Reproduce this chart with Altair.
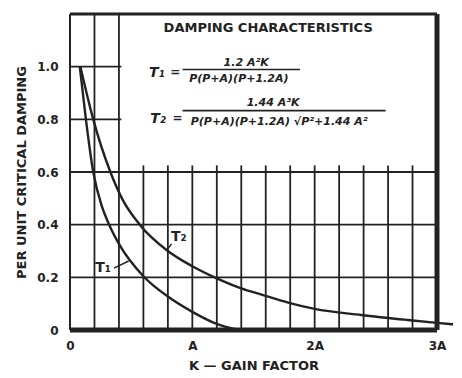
import altair as alt
import pandas as pd

# ---- data (x in units of A) ----
t1_x = [0.08, 0.13, 0.19, 0.26, 0.32, 0.40, 0.60, 0.80, 1.00, 1.20, 1.38]
t1_y = [1.00, 0.80, 0.60, 0.47, 0.40, 0.327, 0.204, 0.127, 0.069, 0.023, 0.0]
t2_x = [0.085, 0.19, 0.33, 0.43, 0.57, 0.80, 1.00, 1.20, 1.40, 1.56, 1.79, 2.00, 2.38, 2.76, 3.00, 3.15]
t2_y = [1.00, 0.80, 0.60, 0.495, 0.40, 0.30, 0.242, 0.196, 0.158, 0.135, 0.103, 0.08, 0.057, 0.038, 0.027, 0.021]

x_tick_values = [0, 1, 2, 3]
x_tick_labels = ["0", "A", "2A", "3A"]
y_tick_values = [0, 0.2, 0.4, 0.6, 0.8, 1.0]
y_tick_labels = ["0", "0.2", "0.4", "0.6", "0.8", "1.0"]

grid_x = [0.2, 0.4, 0.6, 0.8, 1.0, 1.2, 1.4, 1.6, 1.8, 2.0, 2.2, 2.4, 2.6, 2.8]
grid_y = [0.2, 0.4, 0.6, 0.8, 1.0]

title_text = "DAMPING CHARACTERISTICS"
x_title = "K — GAIN FACTOR"
y_title = "PER UNIT CRITICAL DAMPING"

INK = "#222222"
FONT = "DejaVu Sans"

# ---- tables ----
curves = pd.concat([
    pd.DataFrame({"x": t1_x, "y": t1_y, "s": "T1"}),
    pd.DataFrame({"x": t2_x, "y": t2_y, "s": "T2"}),
])

vgrid = pd.DataFrame({
    "x": grid_x,
    "y": [0.0] * len(grid_x),
    "y2": [1.2 if v <= 0.4 else 0.625 for v in grid_x],
})
hgrid = pd.DataFrame({
    "y": grid_y,
    "x": [0.0] * len(grid_y),
    "x2": [3.0 if v <= 0.6 else 0.42 for v in grid_y],
})
borders = pd.DataFrame({
    "x": [0.0, 0.0, 3.0, 0.0],
    "x2": [0.0, 3.0, 3.0, 3.0],
    "y": [0.0, 1.2, 0.0, 0.0],
    "y2": [1.2, 1.2, 1.2, 0.0],
    "w": [2.0, 3.0, 5.0, 5.0],
})
leaders = pd.DataFrame({
    "x": [0.36, 0.83],
    "x2": [0.48, 0.79],
    "y": [0.235, 0.327],
    "y2": [0.262, 0.303],
})
fraction_bars = pd.DataFrame({
    "x": [0.92, 0.92],
    "x2": [1.88, 2.58],
    "y": [0.989, 0.833],
})

def labexpr(vals, labs):
    e = "''"
    for v, l in reversed(list(zip(vals, labs))):
        e = f"datum.value == {v} ? '{l}' : ({e})"
    return e

xs = alt.Scale(domain=[0, 3], nice=False, zero=False)
ys = alt.Scale(domain=[0, 1.2], nice=False, zero=False)

x_axis = alt.Axis(
    values=x_tick_values, labelExpr=labexpr(x_tick_values, x_tick_labels),
    title=x_title, grid=False, ticks=False, domain=False,
    labelFont=FONT, labelFontSize=12, labelFontWeight="bold", labelColor=INK,
    labelPadding=10, titleFont=FONT, titleFontSize=13, titleFontWeight="bold",
    titleColor=INK, titlePadding=8, labelFlush=False)
y_axis = alt.Axis(
    values=y_tick_values, labelExpr=labexpr(y_tick_values, y_tick_labels),
    title=y_title, grid=False, ticks=False, domain=False,
    labelFont=FONT, labelFontSize=12, labelFontWeight="bold", labelColor=INK,
    labelPadding=12, titleFont=FONT, titleFontSize=13, titleFontWeight="bold",
    titleColor=INK, titlePadding=8, labelFlush=False)

X = alt.X("x:Q", scale=xs, axis=x_axis)
Y = alt.Y("y:Q", scale=ys, axis=y_axis)

vgrid_layer = alt.Chart(vgrid).mark_rule(color=INK, strokeWidth=1.8).encode(
    x=X, y=Y, y2="y2:Q")
hgrid_layer = alt.Chart(hgrid).mark_rule(color=INK, strokeWidth=1.8).encode(
    x=X, x2="x2:Q", y=Y)
border_layer = alt.Chart(borders).mark_rule(color=INK).encode(
    x=X, x2="x2:Q", y=Y, y2="y2:Q",
    strokeWidth=alt.StrokeWidth("w:Q", scale=None))
curve_layer = alt.Chart(curves).mark_line(
    color=INK, strokeWidth=2.4, interpolate="monotone", clip=False).encode(
    x=X, y=Y, detail="s:N")
leader_layer = alt.Chart(leaders).mark_rule(color=INK, strokeWidth=1.5).encode(
    x=X, x2="x2:Q", y=Y, y2="y2:Q")
bar_layer = alt.Chart(fraction_bars).mark_rule(color=INK, strokeWidth=1.6).encode(
    x=X, x2="x2:Q", y=Y)

def text_layer(rows, size, style="normal", align="center"):
    df = pd.DataFrame(rows, columns=["x", "y", "t"])
    return alt.Chart(df).mark_text(
        font=FONT, fontSize=size, fontWeight="bold", fontStyle=style,
        color=INK, align=align, baseline="middle").encode(
        x=X, y=Y, text="t:N")

title_layer = text_layer([(1.62, 1.148, title_text)], 13)
eq_t = text_layer([(0.71, 0.975, "T₁"), (0.72, 0.802, "T₂")], 14, "italic")
eq_eq = text_layer([(0.86, 0.978, "="), (0.88, 0.806, "=")], 12)
eq_body = text_layer([
    (1.44, 1.015, "1.2 A²K"),
    (1.38, 0.954, "P(P+A)(P+1.2A)"),
    (1.66, 0.863, "1.44 A³K"),
    (1.71, 0.791, "P(P+A)(P+1.2A) √P²+1.44 A²"),
], 11, "italic")
curve_labels = text_layer([(0.27, 0.235, "T₁"), (0.89, 0.354, "T₂")], 14)

chart = alt.layer(
    vgrid_layer, hgrid_layer, border_layer, curve_layer, leader_layer, bar_layer,
    title_layer, eq_t, eq_eq, eq_body, curve_labels,
).properties(
    width=367, height=316,
    autosize=alt.AutoSizeParams(type="none"),
    padding={"left": 62, "top": 6, "right": 16, "bottom": 48},
    background="white",
).configure_view(stroke=None)

chart.save("out.html", embed_options={"renderer": "svg", "actions": False})
